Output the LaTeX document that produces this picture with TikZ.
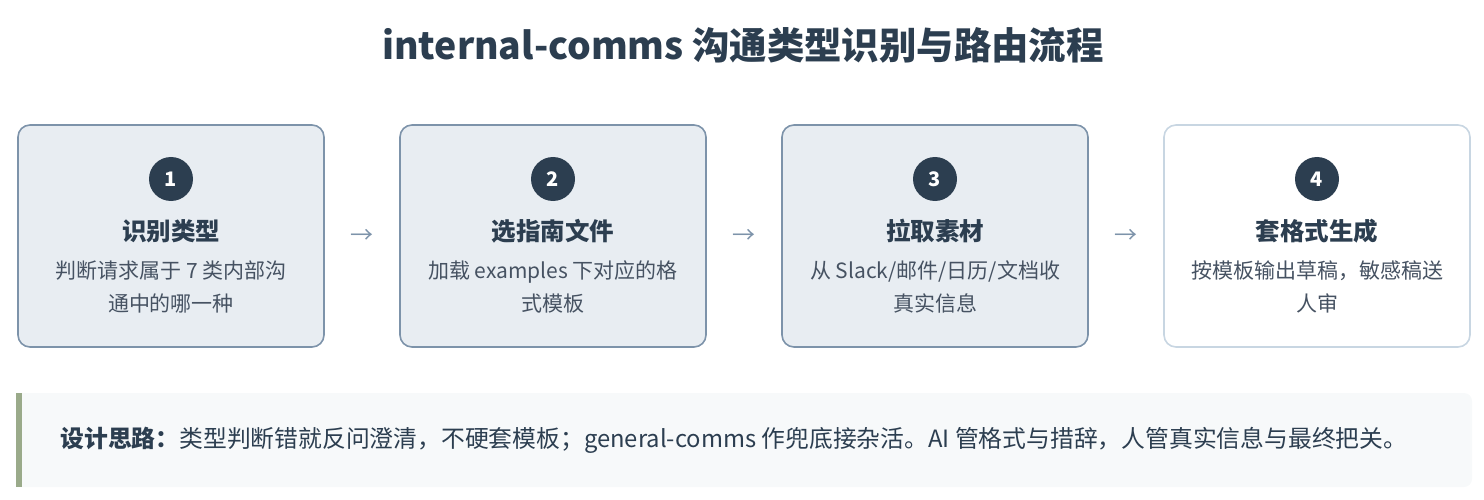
\documentclass[tikz,border=0pt]{standalone}
\usepackage{fontspec}
\setmainfont{Noto Sans CJK SC}
\usepackage{tikz}
\usetikzlibrary{positioning}

\definecolor{inkdark}{HTML}{2C3E50}
\definecolor{inkgray}{HTML}{465262}
\definecolor{boxfill}{HTML}{E8EDF2}
\definecolor{boxline}{HTML}{7D93AA}
\definecolor{boxlinelight}{HTML}{C8D6E2}
\definecolor{notefill}{HTML}{F7F9FA}
\definecolor{notebar}{HTML}{9AAA8A}

\begin{document}
\begin{tikzpicture}[x=1pt, y=-1pt,
    stepbox/.style={draw=boxline, line width=1.6pt, fill=boxfill, rounded corners=12pt,
        minimum width=306pt, minimum height=222pt, inner sep=0pt},
    lastbox/.style={stepbox, draw=boxlinelight, fill=white},
    stepnum/.style={circle, fill=inkdark, text=white, minimum size=44pt, inner sep=0pt,
        font=\fontsize{20}{24}\selectfont\bfseries},
    stephead/.style={text=inkdark, font=\fontsize{24.5}{28}\selectfont\bfseries},
    stepdesc/.style={text=inkgray, align=center, font=\fontsize{21}{33}\selectfont},
    flowarrow/.style={text=boxline, font=\fontsize{23}{26}\selectfont}]
    \useasboundingbox (0,0) rectangle (1484,500);

    % Title
    \node[text=inkdark, font=\fontsize{37.4}{42}\selectfont\bfseries] (title) at (743,45)
        {internal-comms 沟通类型识别与路由流程};

    % Steps
    \node[stepbox] (box1) at (171,236) {};
    \node[stepbox] (box2) at (553,236) {};
    \node[stepbox] (box3) at (935,236) {};
    \node[lastbox] (box4) at (1317,236) {};

    \node[stepnum] (num1) at (171,179) {1};
    \node[stepnum] (num2) at (553,179) {2};
    \node[stepnum] (num3) at (935,179) {3};
    \node[stepnum] (num4) at (1317,179) {4};

    \node[stephead] (head1) at (171,231) {识别类型};
    \node[stephead] (head2) at (553,231) {选指南文件};
    \node[stephead] (head3) at (935,231) {拉取素材};
    \node[stephead] (head4) at (1317,231) {套格式生成};

    \node[stepdesc] (desc1) at (171,287) {判断请求属于 7 类内部沟\\通中的哪一种};
    \node[stepdesc] (desc2) at (553,287) {加载 examples 下对应的格\\式模板};
    \node[stepdesc] (desc3) at (935,287) {从 Slack/邮件/日历/文档收\\真实信息};
    \node[stepdesc] (desc4) at (1317,287) {按模板输出草稿，敏感稿送\\人审};

    % Arrows between steps
    \node[flowarrow] (arr1) at (362,236) {→};
    \node[flowarrow] (arr2) at (744,236) {→};
    \node[flowarrow] (arr3) at (1126,236) {→};

    % Design note
    \fill[notefill] (16,393) [rounded corners=8pt] -- (1472,393) -- (1472,487) [sharp corners] -- (16,487) -- cycle;
    \fill[notebar] (16,393) rectangle (22,487);
    \node[anchor=west, text=inkdark, font=\fontsize{23.8}{28}\selectfont] (note) at (57,440)
        {\textbf{设计思路：}类型判断错就反问澄清，不硬套模板；general-comms 作兜底接杂活。AI 管格式与措辞，人管真实信息与最终把关。};
\end{tikzpicture}
\end{document}
